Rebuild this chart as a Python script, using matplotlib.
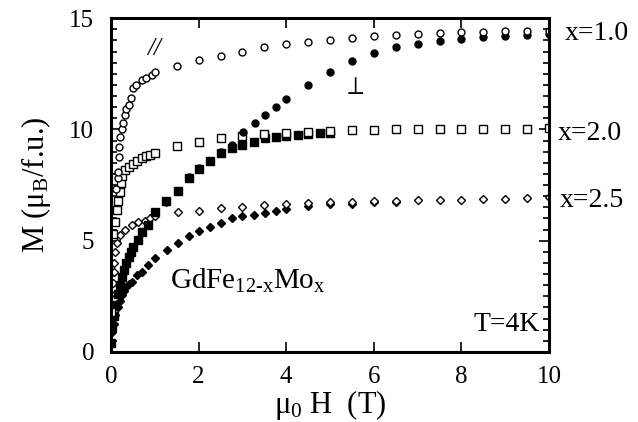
import numpy as np
import matplotlib
matplotlib.use("Agg")
import matplotlib.pyplot as plt
from matplotlib.ticker import MultipleLocator

plt.rcParams['font.family'] = ['Liberation Serif', 'DejaVu Serif']
plt.rcParams['mathtext.fontset'] = 'custom'
plt.rcParams['mathtext.rm'] = 'Liberation Serif'
plt.rcParams['mathtext.it'] = 'Liberation Serif:italic'

# x=1.0, field parallel (open circles)
h_10_par = [0.12, 0.15, 0.17, 0.19, 0.19, 0.2, 0.24, 0.27, 0.32, 0.35, 0.4, 0.46, 0.51, 0.58,
            0.7, 0.81, 0.93, 1.0,
            1.5, 2.0, 2.5, 3.0, 3.5, 4.0, 4.5, 5.0, 5.5, 6.0, 6.5, 7.0, 7.5, 8.0, 8.5, 9.0, 9.5, 10.0]
m_10_par = [7.3, 7.8, 8.1, 8.77, 9.2, 9.67, 10.04, 10.3, 10.64, 10.9, 11.1, 11.4, 11.84, 12.0,
            12.2, 12.3, 12.46, 12.57,
            12.85, 13.1, 13.3, 13.5, 13.7, 13.85, 13.93, 14.04, 14.1, 14.2, 14.25, 14.3, 14.34, 14.36,
            14.38, 14.4, 14.4, 14.42]

# x=1.0, field perpendicular (filled circles)
h_10_perp = [1.25, 1.52, 1.77, 2.0, 2.26, 2.5, 2.77, 3.02, 3.29, 3.52, 3.77, 4.0, 4.5, 5.0, 5.5,
             6.0, 6.5, 7.0, 7.5, 8.0, 8.5, 9.0, 9.5, 10.0]
m_10_perp = [6.75, 7.25, 7.85, 8.25, 8.6, 9.0, 9.3, 9.9, 10.3, 10.67, 11.0, 11.36, 12.0, 12.57,
             13.07, 13.44, 13.71, 13.86, 13.98, 14.08, 14.16, 14.22, 14.24, 14.3]

# x=2.0, field parallel (open squares)
h_20_par = [0.0, 0.05, 0.09, 0.13, 0.17, 0.2, 0.22, 0.25, 0.32, 0.4, 0.5, 0.6, 0.7, 0.8, 0.89, 1.0,
            1.5, 2.0, 2.5, 3.0, 3.5, 4.0, 4.5, 5.0, 5.5, 6.0, 6.5, 7.0, 7.5, 8.0, 8.5, 9.0, 9.5, 10.0]
m_20_par = [1.8, 5.3, 5.85, 6.4, 6.8, 7.2, 7.57, 7.9, 8.17, 8.3, 8.45, 8.6, 8.7, 8.8, 8.85, 8.95,
            9.26, 9.44, 9.62, 9.71, 9.79, 9.85, 9.9, 9.93, 9.97, 9.98, 10.0, 10.0, 10.01, 10.02,
            10.02, 10.03, 10.03, 10.05]

# x=2.0, field perpendicular (filled squares)
h_20_perp = [0.0, 0.03, 0.06, 0.1, 0.15, 0.2, 0.25, 0.3, 0.35, 0.4, 0.45, 0.51, 0.62, 0.7, 0.85, 1.0,
             1.26, 1.52, 1.77, 2.0, 2.26, 2.5, 2.77, 3.0, 3.27, 3.52, 3.77, 4.0, 4.27, 4.5, 4.77, 5.0]
m_20_perp = [0.4, 1.1, 1.6, 2.1, 2.6, 3.0, 3.35, 3.7, 4.0, 4.25, 4.5, 4.73, 5.03, 5.4, 5.7, 6.3,
             6.8, 7.23, 7.8, 8.2, 8.57, 8.92, 9.15, 9.3, 9.44, 9.6, 9.65, 9.7, 9.77, 9.8, 9.82, 9.85]

# x=2.5, field parallel (open diamonds)
h_25_par = [0.0, 0.04, 0.06, 0.07, 0.09, 0.13, 0.2, 0.32, 0.47, 0.62, 0.78, 0.89, 1.0,
            1.52, 2.0, 2.5, 3.0, 3.5, 4.0, 4.5, 5.0, 5.5, 6.0, 6.5, 7.0, 7.5, 8.0, 8.5, 9.0, 9.5, 10.0]
m_25_par = [2.6, 3.1, 3.6, 4.0, 4.5, 4.9, 5.25, 5.48, 5.7, 5.85, 5.9, 6.0, 6.1,
            6.27, 6.35, 6.45, 6.52, 6.6, 6.64, 6.7, 6.74, 6.76, 6.78, 6.8, 6.82, 6.83, 6.85, 6.87,
            6.88, 6.9, 6.95]

# x=2.5, field perpendicular (filled diamonds)
h_25_perp = [0.0, 0.03, 0.06, 0.1, 0.15, 0.2, 0.25, 0.3, 0.35, 0.4, 0.47, 0.59, 0.7, 0.85, 1.0,
             1.27, 1.54, 1.78, 2.0, 2.26, 2.5, 2.77, 3.0, 3.27, 3.52, 3.77, 4.0, 4.5, 5.0, 5.5, 6.0, 6.5]
m_25_perp = [0.4, 0.9, 1.25, 1.65, 2.0, 2.3, 2.55, 2.75, 2.9, 3.05, 3.16, 3.46, 3.6, 3.9, 4.2,
             4.57, 4.91, 5.2, 5.43, 5.63, 5.8, 6.0, 6.1, 6.17, 6.25, 6.33, 6.44, 6.56, 6.64, 6.67,
             6.72, 6.75]

fig = plt.figure(figsize=(6.38, 4.22), dpi=100)
ax = fig.add_axes([0.174, 0.166, 0.6865, 0.791])

ax.plot(h_25_perp, m_25_perp, 'D', ms=4, mfc='black', mec='black', ls='none')
ax.plot(h_25_par, m_25_par, 'D', ms=4, mfc='white', mec='black', mew=1.0, ls='none')
ax.plot(h_20_perp, m_20_perp, 's', ms=5.5, mfc='black', mec='black', ls='none')
ax.plot(h_20_par, m_20_par, 's', ms=5.5, mfc='white', mec='black', mew=1.0, ls='none')
ax.plot(h_10_perp, m_10_perp, 'o', ms=5, mfc='black', mec='black', ls='none')
ax.plot(h_10_par, m_10_par, 'o', ms=5, mfc='white', mec='black', mew=1.0, ls='none')

ax.set_xlim(0, 10)
ax.set_ylim(0, 15)
ax.xaxis.set_major_locator(MultipleLocator(2))
ax.yaxis.set_major_locator(MultipleLocator(5))
ax.yaxis.set_minor_locator(MultipleLocator(0.5))

for s in ax.spines.values():
    s.set_linewidth(2.2)

ax.tick_params(axis='both', which='major', direction='in', length=7, width=1.2,
               labelsize=18, top=True, right=True)
ax.tick_params(axis='x', which='major', pad=10)
ax.tick_params(axis='y', which='major', pad=12)
ax.tick_params(axis='y', which='minor', direction='in', length=4, width=1.2, right=True)

ax.set_xlabel(r'$\mathregular{\mu_0}$ H  (T)', fontsize=22, labelpad=0)
ax.set_ylabel(r'M ($\mathregular{\mu_B}$/f.u.)', fontsize=22, labelpad=12)

ax.text(0.82, 13.35, '//', fontsize=18, style='italic')
ax.text(5.55, 11.6, r'$\perp$', fontsize=18, ha='center')
ax.text(1.35, 2.85, r'GdFe$\mathregular{_{12\text{-}x}}$Mo$\mathregular{_x}$', fontsize=21)
ax.text(9.8, 0.95, 'T=4K', fontsize=20, ha='right')

ax.text(10.35, 14.3, 'x=1.0', fontsize=20, va='center')
ax.text(10.2, 9.8, 'x=2.0', fontsize=20, va='center')
ax.text(10.25, 6.8, 'x=2.5', fontsize=20, va='center')

fig.savefig('out.png', dpi=100)
